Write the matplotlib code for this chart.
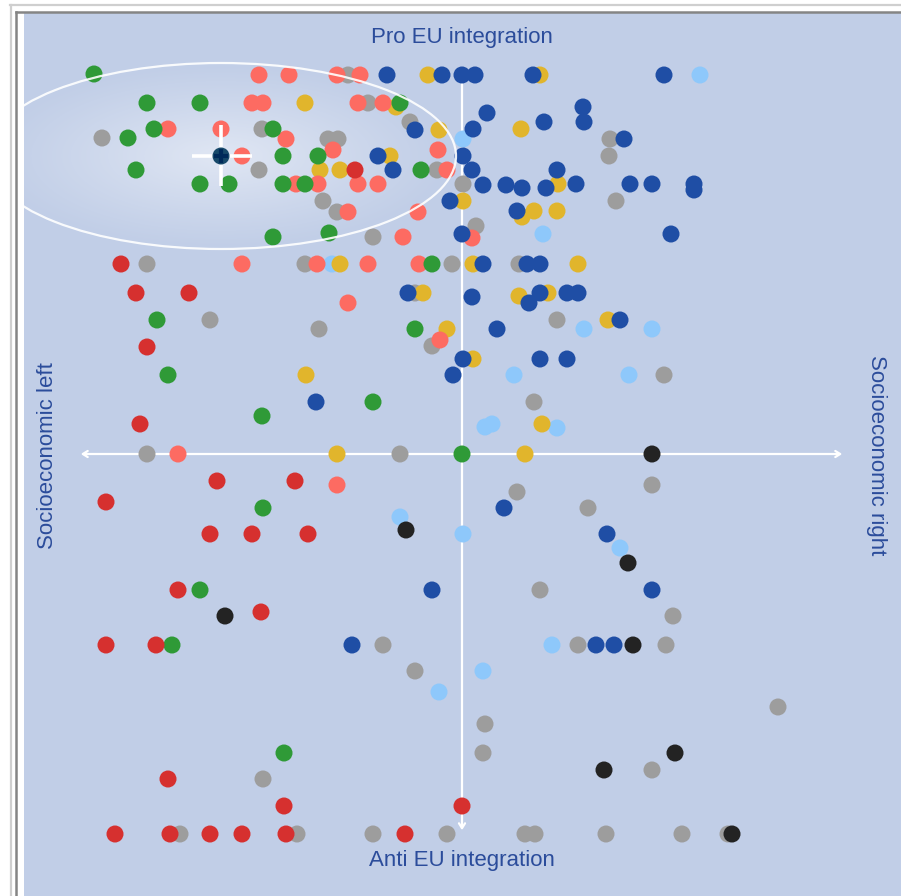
import numpy as np
import matplotlib.pyplot as plt
from matplotlib.patches import Ellipse, Rectangle
from matplotlib.lines import Line2D

# party positions (x: left -> right, y: pro EU at top)
green_x = [94, 147, 200, 400, 128, 154, 273, 283, 318, 136, 421, 200, 229, 283, 305, 273, 329, 432, 157, 415, 168, 373, 262, 462, 263, 200, 172, 284]
green_y = [74, 103, 103, 103, 138, 129, 129, 156, 156, 170, 170, 184, 184, 184, 184, 237, 233, 264, 320, 329, 375, 402, 416, 454, 508, 590, 645, 753]

salmon_x = [259, 289, 337, 360, 252, 263, 358, 383, 168, 221, 286, 333, 438, 242, 447, 296, 318, 358, 378, 348, 418, 472, 403, 242, 317, 368, 419, 348, 440, 178, 337]
salmon_y = [75, 75, 75, 75, 103, 103, 103, 103, 129, 129, 139, 150, 150, 156, 170, 184, 184, 184, 184, 212, 212, 238, 237, 264, 264, 264, 264, 303, 340, 454, 485]

red_x = [355, 121, 136, 189, 147, 140, 217, 295, 106, 210, 252, 308, 178, 261, 106, 156, 168, 284, 462, 115, 170, 210, 242, 286, 405]
red_y = [170, 264, 293, 293, 347, 424, 481, 481, 502, 534, 534, 534, 590, 612, 645, 645, 779, 806, 806, 834, 834, 834, 834, 834, 834]

gray_x = [348, 368, 102, 262, 328, 338, 410, 259, 437, 323, 337, 463, 476, 610, 609, 616, 373, 147, 305, 452, 519, 415, 210, 319, 432, 557, 664, 534, 147, 400, 652, 517, 588, 540, 673, 383, 578, 666, 415, 778, 485, 483, 263, 652, 180, 297, 373, 447, 525, 535, 606, 682, 728]
gray_y = [75, 103, 138, 129, 139, 139, 122, 170, 170, 201, 212, 184, 226, 139, 156, 201, 237, 264, 264, 264, 264, 293, 320, 329, 346, 320, 375, 402, 454, 454, 485, 492, 508, 590, 616, 645, 645, 645, 671, 707, 724, 753, 779, 770, 834, 834, 834, 834, 834, 834, 834, 834, 834]

yellow_x = [428, 540, 305, 396, 439, 521, 390, 320, 340, 558, 463, 522, 534, 557, 340, 473, 578, 423, 519, 548, 447, 608, 473, 306, 542, 337, 525]
yellow_y = [75, 75, 103, 107, 130, 129, 156, 170, 170, 184, 201, 217, 211, 211, 264, 264, 264, 293, 296, 293, 329, 320, 359, 375, 424, 454, 454]

blue_x = [387, 442, 462, 475, 533, 664, 487, 473, 415, 544, 583, 584, 624, 463, 378, 393, 472, 483, 506, 522, 546, 557, 576, 630, 652, 694, 694, 450, 517, 462, 671, 483, 527, 540, 408, 472, 540, 529, 567, 578, 497, 620, 463, 540, 567, 453, 316, 504, 607, 432, 652, 352, 596, 614]
blue_y = [75, 75, 75, 75, 75, 75, 113, 129, 130, 122, 107, 122, 139, 156, 156, 170, 170, 185, 185, 188, 188, 170, 184, 184, 184, 184, 190, 201, 211, 234, 234, 264, 264, 264, 293, 297, 293, 303, 293, 293, 329, 320, 359, 359, 359, 375, 402, 508, 534, 590, 590, 645, 645, 645]

lightblue_x = [700, 463, 543, 332, 584, 652, 514, 629, 485, 492, 557, 400, 463, 620, 552, 483, 439]
lightblue_y = [75, 139, 234, 264, 329, 329, 375, 375, 427, 424, 428, 517, 534, 548, 645, 671, 692]

black_x = [652, 406, 628, 225, 633, 675, 604, 732]
black_y = [454, 530, 563, 616, 645, 753, 770, 834]

# selected party marker and its ellipse
sel_x, sel_y = 221, 156
ell_x, ell_y, ell_w, ell_h = 221, 156, 470, 186

bg = '#c1cee7'
txt = '#2b4c9b'

fig = plt.figure(figsize=(9.01, 8.96), dpi=100)
fig.patch.set_facecolor('white')
W, H = 901, 896

# screenshot frame
fig.add_artist(Line2D([10 / W, 1], [1 - 5.5 / H, 1 - 5.5 / H], color='#cfcfcf', lw=1.6))
fig.add_artist(Line2D([11 / W, 11 / W], [0, 1 - 5.5 / H], color='#cfcfcf', lw=1.6))
fig.add_artist(Line2D([15.5 / W, 1], [1 - 12 / H, 1 - 12 / H], color='#858585', lw=1.8))
fig.add_artist(Line2D([16 / W, 16 / W], [0, 1 - 12 / H], color='#858585', lw=1.8))

ax = fig.add_axes([24 / W, 0, 877 / W, 883 / H])
ax.set_facecolor(bg)
ax.set_xlim(24, 901)
ax.set_ylim(896, 13)
ax.axis('off')
ax.add_patch(Rectangle((24, 13), 877, 883, color=bg, zorder=0))

# soft glow inside the ellipse
gx = np.linspace(ell_x - ell_w / 2, ell_x + ell_w / 2, 300)
gy = np.linspace(ell_y - ell_h / 2, ell_y + ell_h / 2, 150)
GX, GY = np.meshgrid(gx, gy)
r = np.sqrt(((GX - sel_x) / (ell_w / 2)) ** 2 + ((GY - sel_y) / (ell_h / 2)) ** 2)
alpha = np.clip(1 - r, 0, 1) ** 1.1 * 0.8
img = np.zeros(GX.shape + (4,))
img[..., :3] = np.array([0.91, 0.93, 0.97])
img[..., 3] = alpha
im = ax.imshow(img, extent=(gx[0], gx[-1], gy[-1], gy[0]), zorder=1, interpolation='bilinear')
im.set_clip_path(Ellipse((ell_x, ell_y), ell_w, ell_h, transform=ax.transData))
ell = Ellipse((ell_x, ell_y), ell_w, ell_h, fill=False, ec='white', lw=1.6, alpha=0.9, zorder=3.5)
ax.add_patch(ell)

# axes arrows
ax.annotate('', xy=(78, 454), xytext=(845, 454),
            arrowprops=dict(arrowstyle='<->,head_length=0.35,head_width=0.22', color='white', lw=1.6), zorder=2)
ax.annotate('', xy=(462, 833), xytext=(462, 78),
            arrowprops=dict(arrowstyle='->,head_length=0.35,head_width=0.22', color='white', lw=1.6), zorder=2)

s = 150
groups = [
    (gray_x, gray_y, '#9d9d9d'),
    (lightblue_x, lightblue_y, '#8ec8fb'),
    (yellow_x, yellow_y, '#e1b52c'),
    (salmon_x, salmon_y, '#fd6b62'),
    (green_x, green_y, '#2f9a37'),
    (red_x, red_y, '#d6302f'),
    (blue_x, blue_y, '#1f4ea5'),
    (black_x, black_y, '#232323'),
]
for xs, ys, c in groups:
    ax.scatter(xs, ys, s=s, color=c, edgecolors='none', zorder=3)

# selected party cross
ax.plot([192, 252], [sel_y, sel_y], color='white', lw=2.6, zorder=4, solid_capstyle='butt')
ax.plot([sel_x, sel_x], [125, 186], color='white', lw=2.6, zorder=4, solid_capstyle='butt')
ax.scatter([sel_x], [sel_y], s=150, color='#17496a', edgecolors='none', zorder=5)
ax.scatter([sel_x], [sel_y], s=110, marker='+', color='#002a5a', linewidths=3, zorder=6)

font = 'Liberation Sans'
ax.text(462, 38, 'Pro EU integration', ha='center', va='center', fontsize=16, color=txt, family=font)
ax.text(462, 860, 'Anti EU integration', ha='center', va='center', fontsize=16, color=txt, family=font)
ax.text(48, 456, 'Socioeconomic left', ha='center', va='center', rotation=90, fontsize=16, color=txt, family=font)
ax.text(876, 455, 'Socioeconomic right', ha='center', va='center', rotation=-90, fontsize=16, color=txt, family=font)

fig.savefig('out.png', dpi=100, facecolor='white')
